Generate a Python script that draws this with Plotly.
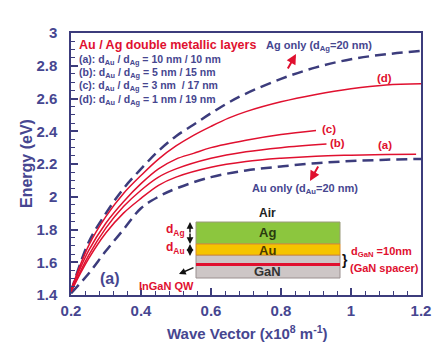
import plotly.graph_objects as go

# ---- data ----
x_ag = [0.2, 0.25, 0.3, 0.35, 0.4, 0.45, 0.5, 0.55, 0.6, 0.65, 0.7, 0.8, 0.9, 1.0, 1.1, 1.2]
e_ag = [1.42, 1.72, 1.90, 2.05, 2.17, 2.28, 2.37, 2.44, 2.51, 2.575, 2.63, 2.72, 2.79, 2.84, 2.87, 2.89]

x_d = [0.2, 0.25, 0.3, 0.35, 0.4, 0.45, 0.5, 0.55, 0.6, 0.65, 0.7, 0.8, 0.9, 1.0, 1.1, 1.2]
e_d = [1.43, 1.70, 1.88, 2.02, 2.13, 2.23, 2.31, 2.375, 2.43, 2.48, 2.52, 2.58, 2.625, 2.66, 2.683, 2.69]

x_c = [0.2, 0.25, 0.3, 0.35, 0.4, 0.45, 0.5, 0.55, 0.6, 0.7, 0.8, 0.9]
e_c = [1.43, 1.67, 1.84, 1.97, 2.08, 2.17, 2.23, 2.265, 2.30, 2.345, 2.38, 2.405]

x_b = [0.2, 0.25, 0.3, 0.35, 0.4, 0.45, 0.5, 0.6, 0.7, 0.8, 0.93]
e_b = [1.42, 1.64, 1.81, 1.94, 2.04, 2.12, 2.17, 2.235, 2.275, 2.30, 2.322]

x_a = [0.2, 0.25, 0.3, 0.35, 0.4, 0.45, 0.5, 0.6, 0.7, 0.8, 0.9, 1.0, 1.1, 1.186]
e_a = [1.42, 1.62, 1.78, 1.90, 1.99, 2.07, 2.12, 2.18, 2.215, 2.235, 2.248, 2.254, 2.258, 2.26]

x_au = [0.2, 0.25, 0.3, 0.35, 0.4, 0.45, 0.5, 0.6, 0.7, 0.8, 0.9, 1.0, 1.1, 1.2]
e_au = [1.41, 1.53, 1.67, 1.80, 1.93, 2.00, 2.05, 2.12, 2.16, 2.185, 2.205, 2.218, 2.226, 2.231]

x_ticks = [0.2, 0.4, 0.6, 0.8, 1.0, 1.2]
x_ticklabels = ["0.2", "0.4", "0.6", "0.8", "1", "1.2"]
y_ticks = [1.4, 1.6, 1.8, 2.0, 2.2, 2.4, 2.6, 2.8, 3.0]
y_ticklabels = ["1.4", "1.6", "1.8", "2", "2.2", "2.4", "2.6", "2.8", "3"]

NAVY = "#3c3c7c"
NAVYTXT = "#464690"
RED = "#e0102f"
FONT = "Liberation Sans"

# plot-area pixel geometry (for decoration placement)
L, R, T, B = 63, 413, 25, 287
W, H = 448, 357


def P(px, py):
    return (px - L) / (R - L), (B - py) / (B - T)


fig = go.Figure()
fig.add_trace(go.Scatter(x=x_ag, y=e_ag, mode="lines", line=dict(color=NAVY, width=2.5, dash="11px,6px", shape="spline")))
fig.add_trace(go.Scatter(x=x_au, y=e_au, mode="lines", line=dict(color=NAVY, width=2.5, dash="11px,6px", shape="spline")))
for xs, es in [(x_d, e_d), (x_c, e_c), (x_b, e_b), (x_a, e_a)]:
    fig.add_trace(go.Scatter(x=xs, y=es, mode="lines", line=dict(color=RED, width=1.5, shape="spline")))

ann = []


def text(px, py, s, size=12, color=NAVYTXT, xanchor="left", weight="bold", angle=0):
    x, y = P(px, py)
    ann.append(dict(x=x, y=y, xref="paper", yref="paper", text=s, showarrow=False,
                    xanchor=xanchor, yanchor="middle", textangle=angle,
                    font=dict(family=FONT, size=size, color=color, weight=weight)))


def arrow(tx, ty, fx, fy, color, width=2, head=2, size=1):
    x, y = P(tx, ty)
    ann.append(dict(x=x, y=y, xref="paper", yref="paper", text="", showarrow=True,
                    ax=fx - tx, ay=fy - ty, arrowcolor=color, arrowwidth=width,
                    arrowhead=head, arrowsize=size))


# legend block
text(69, 37, "Au / Ag double metallic layers", 12.5, RED)
text(69, 52, "(a): d<sub>Au</sub> / d<sub>Ag</sub> = 10 nm / 10 nm", 10.5)
text(69, 65, "(b): d<sub>Au</sub> / d<sub>Ag</sub> = 5 nm / 15 nm", 10.5)
text(69, 78, "(c): d<sub>Au</sub> / d<sub>Ag</sub> = 3 nm  / 17 nm", 10.5)
text(69, 92, "(d): d<sub>Au</sub> / d<sub>Ag</sub> = 1 nm / 19 nm", 10.5)

# curve labels
text(376, 70, "(d)", 11.5, RED, "center")
text(321, 121, "(c)", 11.5, RED, "center")
text(329, 135, "(b)", 11.5, RED, "center")
text(377, 137, "(a)", 11.5, RED, "center")
text(311, 38, "Ag only (d<sub>Ag</sub>=20 nm)", 11, NAVYTXT, "center")
text(297, 181, "Au only (d<sub>Au</sub>=20 nm)", 11, NAVYTXT, "center")
arrow(288, 46, 279, 62, RED)
arrow(302, 173, 311, 157, RED)
text(102, 270, "(a)", 16, NAVYTXT, "center")

# inset diagram
shapes = []


def rect(px0, py0, px1, py1, fill, line="rgba(0,0,0,0)", lw=1):
    x0, y0 = P(px0, py1)
    x1, y1 = P(px1, py0)
    shapes.append(dict(type="rect", xref="paper", yref="paper", x0=x0, y0=y0, x1=x1, y1=y1,
                       fillcolor=fill, line=dict(color=line, width=lw), layer="above"))


rect(188, 247, 332, 270, "#cdc6c6", "#9a9090", 1)
rect(188, 214, 332, 236, "#8cc63e", "#9a9a7a", 1)
rect(188, 236, 332, 247, "#f5c400", "#d88a2a", 1)
rect(188, 255, 332, 258, RED)

text(259, 205, "Air", 12, "#222222", "center")
text(259, 225, "Ag", 13, "#2a3a10", "center")
text(259, 242, "Au", 13, "#4a3a00", "center")
text(259, 263, "GaN", 13, "#333333", "center")
text(167, 222, "d<sub>Ag</sub>", 12, RED, "center")
text(167, 240, "d<sub>Au</sub>", 12, RED, "center")
arrow(182, 214, 182, 226, "#111111", 1.5, 2, 0.9)
arrow(182, 236, 182, 224, "#111111", 1.5, 2, 0.9)
arrow(182, 236, 182, 242, "#111111", 1.5, 2, 0.9)
arrow(182, 248, 182, 241, "#111111", 1.5, 2, 0.9)
arrow(171, 266, 187, 259, "#111111", 1.5, 2, 0.9)
text(158, 278, "InGaN QW", 11, RED, "center")
text(337, 252, "}", 14, "#111111", "center")
text(341, 244, "d<sub>GaN</sub> =10nm", 11, RED, "left")
text(340, 260, "(GaN spacer)", 11, RED, "left")

# axis titles
text(18, 156, "Energy (eV)", 16, NAVYTXT, "center", "bold", -90)
text(240, 324, "Wave Vector (x10<sup>8</sup> m<sup>-1</sup>)", 15, NAVYTXT, "center")

fig.update_layout(
    width=W, height=H,
    margin=dict(l=L, r=W - R, t=T, b=H - B),
    paper_bgcolor="white", plot_bgcolor="white",
    showlegend=False,
    annotations=ann, shapes=shapes,
    xaxis=dict(range=[0.2, 1.2], tickvals=x_ticks, ticktext=x_ticklabels,
               ticks="inside", ticklen=7, tickwidth=1.5, tickcolor=NAVY,
               minor=dict(dtick=0.04, tick0=0.2, ticks="inside", ticklen=4, tickwidth=1, tickcolor=NAVY),
               showline=True, linecolor=NAVY, linewidth=1.5, mirror=True,
               showgrid=False, zeroline=False, ticklabelstandoff=1,
               tickfont=dict(family=FONT, size=15, color=NAVYTXT, weight="bold")),
    yaxis=dict(range=[1.4, 3.0], tickvals=y_ticks, ticktext=y_ticklabels,
               ticks="inside", ticklen=7, tickwidth=1.5, tickcolor=NAVY,
               minor=dict(dtick=0.05, tick0=1.4, ticks="inside", ticklen=4, tickwidth=1, tickcolor=NAVY),
               showline=True, linecolor=NAVY, linewidth=1.5, mirror=True,
               showgrid=False, zeroline=False, ticklabelstandoff=9,
               tickfont=dict(family=FONT, size=15, color=NAVYTXT, weight="bold")),
)

fig.write_html("out.html")
